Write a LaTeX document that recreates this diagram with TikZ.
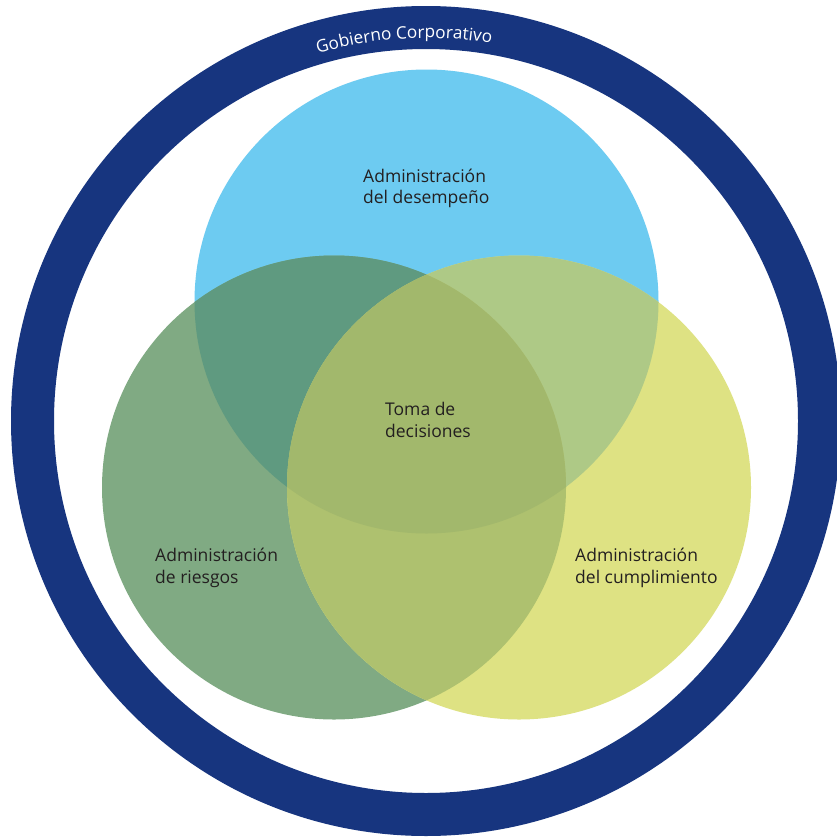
\documentclass[tikz,border=0pt]{standalone}
\usepackage{fontspec}
\setmainfont{Open Sans}
\usetikzlibrary{decorations.text}
\definecolor{navy}{HTML}{17357F}
\definecolor{cblue}{HTML}{6DCBF1}
\definecolor{cgreen}{HTML}{80AA83}
\definecolor{cyellow}{HTML}{DEE283}
\definecolor{cbg}{HTML}{5F9A80}
\definecolor{cby}{HTML}{AEC986}
\definecolor{cgy}{HTML}{AEC16F}
\definecolor{call}{HTML}{A2B86C}
\definecolor{txt}{HTML}{231F20}
\tikzset{
  lbl/.style={align=left, anchor=base west, inner sep=0pt, text=txt,
    font=\fontsize{17.5}{21.5}\selectfont}
}
\begin{document}
\begin{tikzpicture}[x=1pt,y=-1pt]
\useasboundingbox (0,0) rectangle (837,838);
\clip (0,0) rectangle (837,838);
\fill[white] (0,0) rectangle (837,838);
\coordinate (c) at (426,421);
\coordinate (cb) at (426.5,301.5);
\coordinate (cg) at (334,487.5);
\coordinate (cy) at (519,487.5);
% ring
\fill[navy,even odd rule] (c) circle[radius=415] (c) circle[radius=372];
\path[decorate,decoration={text along path, text align=center,
  text={|\color{white}\fontsize{17.2}{20}\selectfont|Gobierno Corporativo}}]
  (c) ++(236.7:383) arc[start angle=236.7, end angle=296.7, radius=383];
% circles
\fill[cblue] (cb) circle[radius=232];
\fill[cgreen] (cg) circle[radius=232];
\fill[cyellow] (cy) circle[radius=232];
\begin{scope}
  \clip (cb) circle[radius=232];
  \fill[cbg] (cg) circle[radius=232];
  \fill[cby] (cy) circle[radius=232];
\end{scope}
\begin{scope}
  \clip (cg) circle[radius=232];
  \fill[cgy] (cy) circle[radius=232];
  \clip (cb) circle[radius=232];
  \fill[call] (cy) circle[radius=232];
\end{scope}
% labels (anchor at baseline of second line)
\node[lbl] (des) at (363,203.5) {Administración\\del desempeño};
\node[lbl] (toma) at (385,437) {Toma de\\decisiones};
\node[lbl] (rie) at (155,583) {Administración\\de riesgos};
\node[lbl] (cum) at (575,583) {Administración\\del cumplimiento};
\end{tikzpicture}
\end{document}
